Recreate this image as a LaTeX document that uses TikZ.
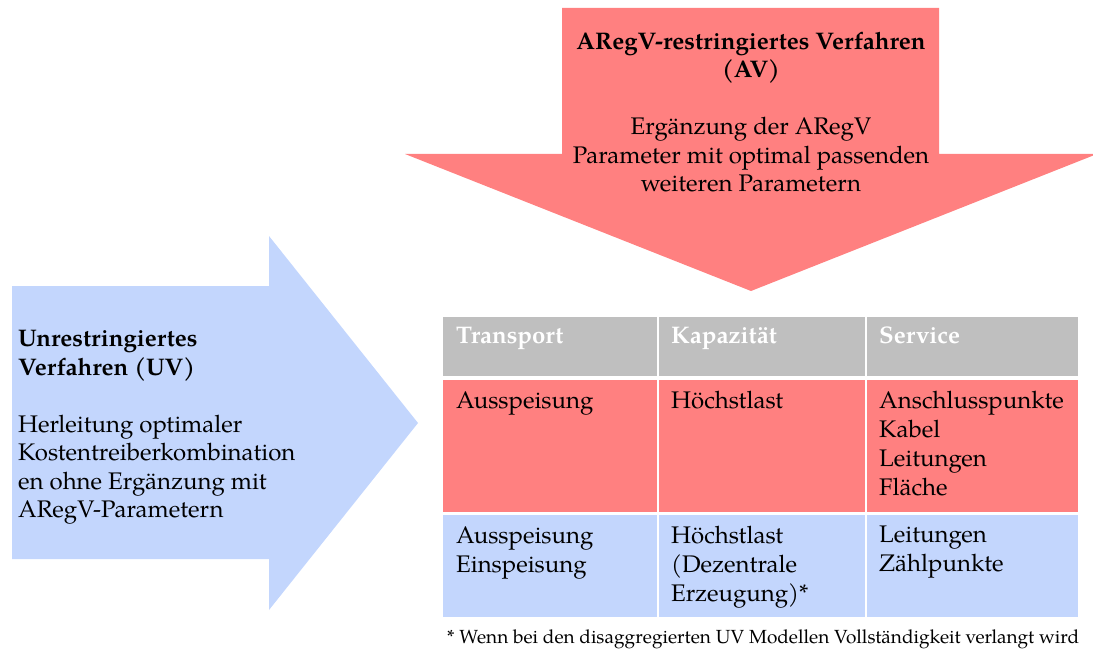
\documentclass[tikz,border=0pt]{standalone}
\usepackage{fontspec}
\setmainfont{texgyrepagella}[Extension=.otf,UprightFont=*-regular,BoldFont=*-bold,ItalicFont=*-italic,BoldItalicFont=*-bolditalic]
\definecolor{avred}{RGB}{255,128,128}
\definecolor{uvblue}{RGB}{195,214,253}
\definecolor{hdgray}{RGB}{191,191,191}
\begin{document}
\begin{tikzpicture}[x=1pt,y=-1pt,
  txt/.style={inner sep=0pt,font=\fontsize{24}{29}\selectfont,align=left,anchor=north west},
  hd/.style={txt,text=white,font=\fontsize{24}{29}\selectfont\bfseries},
  arrowtext/.style={inner sep=0pt,font=\fontsize{24}{28.5}\selectfont}]
\useasboundingbox (0,0) rectangle (1093,650);
% blue arrow (UV)
\fill[uvblue] (12,286) -- (269,286) -- (269,236) -- (418,423) -- (269,610) -- (269,559) -- (12,559) -- cycle;
% red arrow (AV)
\fill[avred] (562,8) -- (939,8) -- (939,154) -- (1097,154) -- (751,291) -- (405,154) -- (562,154) -- cycle;
% table cells
\fill[hdgray] (443,317) rectangle (657,376);
\fill[hdgray] (659,317) rectangle (865,376);
\fill[hdgray] (867,317) rectangle (1078,376);
\fill[avred] (443,380) rectangle (657,512);
\fill[avred] (659,380) rectangle (865,512);
\fill[avred] (867,380) rectangle (1078,512);
\fill[uvblue] (443,515) rectangle (657,617);
\fill[uvblue] (659,515) rectangle (865,617);
\fill[uvblue] (867,515) rectangle (1078,617);
% arrow texts
\node[arrowtext,align=center,anchor=north] (av) at (751,32)
  {\textbf{ARegV-restringiertes Verfahren}\\\textbf{(AV)}\\[28.5pt]Ergänzung der ARegV\\Parameter mit optimal passenden\\weiteren Parametern};
\node[arrowtext,align=left,anchor=north west] (uv) at (18,330)
  {\textbf{Unrestringiertes}\\\textbf{Verfahren (UV)}\\[28.5pt]Herleitung optimaler\\Kostentreiberkombination\\en ohne Ergänzung mit\\ARegV-Parametern};
% header
\node[hd] (h1) at (456,327) {Transport};
\node[hd] (h2) at (671,327) {Kapazität};
\node[hd] (h3) at (879,327) {Service};
% red row
\node[txt] (r1) at (456,391) {Ausspeisung};
\node[txt] (r2) at (671,391) {Höchstlast};
\node[txt] (r3) at (879,391) {Anschlusspunkte\\Kabel\\Leitungen\\Fläche};
% blue row
\node[txt] (b1) at (456,526) {Ausspeisung\\Einspeisung};
\node[txt] (b2) at (671,526) {Höchstlast\\(Dezentrale\\Erzeugung)*};
\node[txt] (b3) at (879,526) {Leitungen\\Zählpunkte};
% footnote
\node[inner sep=0pt,anchor=base west,font=\fontsize{19}{22}\selectfont] (fn) at (447,643)
  {* Wenn bei den disaggregierten UV Modellen Vollständigkeit verlangt wird};
\end{tikzpicture}
\end{document}
